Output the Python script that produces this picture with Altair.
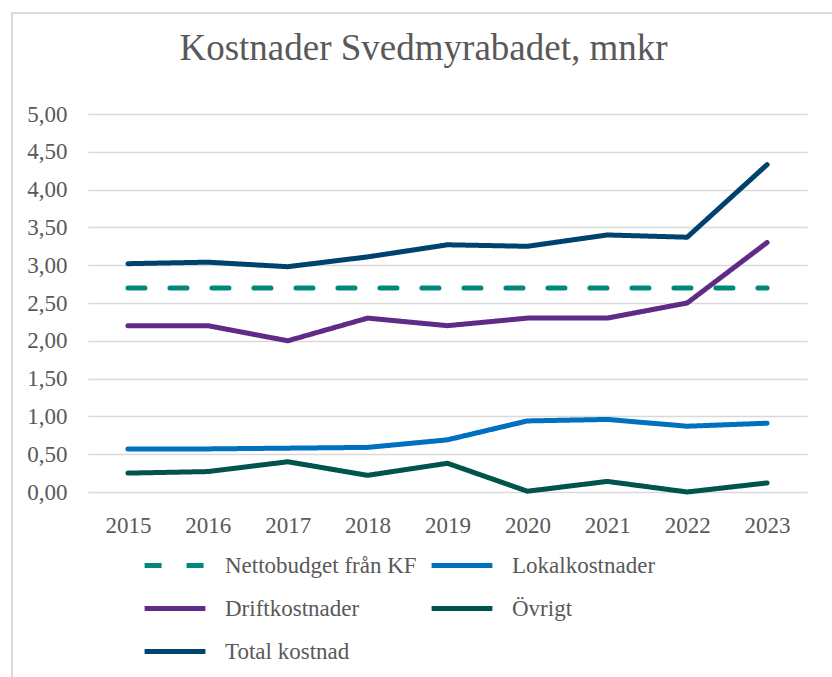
import altair as alt
import pandas as pd

years = ["2015", "2016", "2017", "2018", "2019", "2020", "2021", "2022", "2023"]
series_names = ["Nettobudget från KF", "Lokalkostnader", "Driftkostnader", "Övrigt", "Total kostnad"]
netto = [2.70, 2.70, 2.70, 2.70, 2.70, 2.70, 2.70, 2.70, 2.70]
lokal = [0.57, 0.57, 0.58, 0.59, 0.69, 0.94, 0.96, 0.87, 0.91]
drift = [2.20, 2.20, 2.00, 2.30, 2.20, 2.30, 2.30, 2.50, 3.30]
ovrigt = [0.25, 0.27, 0.40, 0.22, 0.38, 0.01, 0.14, 0.00, 0.12]
total = [3.02, 3.04, 2.98, 3.11, 3.27, 3.25, 3.40, 3.37, 4.33]
colors = ["#00897B", "#0070C0", "#612A86", "#00544C", "#00426F"]
y_ticks = [0, 0.5, 1, 1.5, 2, 2.5, 3, 3.5, 4, 4.5, 5]

rows = []
for name, vals in zip(series_names, [netto, lokal, drift, ovrigt, total]):
    for yr, v in zip(years, vals):
        rows.append({"year": yr, "value": v, "series": name})
df = pd.DataFrame(rows)

FONT = "Liberation Serif"
GRAY = "#595959"

lines = alt.Chart(df).mark_line(strokeWidth=5, strokeCap="round", strokeJoin="round").encode(
    x=alt.X("year:N", sort=years, title=None,
            scale=alt.Scale(type="point", padding=0.5),
            axis=alt.Axis(labelAngle=0, ticks=False, domain=False, grid=False,
                          labelPadding=22)),
    y=alt.Y("value:Q", title=None,
            scale=alt.Scale(domain=[0, 5], nice=False, zero=True),
            axis=alt.Axis(values=y_ticks, ticks=False, domain=False, grid=True,
                          labelPadding=21,
                          labelExpr="replace(format(datum.value, '.2f'), '.', ',')")),
    color=alt.Color("series:N", title=None,
                    scale=alt.Scale(domain=series_names, range=colors),
                    legend=alt.Legend(orient="none", legendX=54, legendY=430, columns=2,
                                      direction="horizontal",
                                      symbolType="stroke", symbolStrokeWidth=5, symbolSize=3700,
                                      labelFont=FONT, labelFontSize=23, labelColor=GRAY,
                                      labelLimit=400, labelOffset=17, clipHeight=43,
                                      rowPadding=0, columnPadding=12)),
    strokeDash=alt.StrokeDash("series:N", title=None,
                              scale=alt.Scale(domain=series_names,
                                              range=[[17, 25], [1, 0], [1, 0], [1, 0], [1, 0]])),
    order=alt.Order("series:N"),
)

border = alt.Chart(pd.DataFrame({"a": [0]})).mark_rect(
    fill=None, stroke="#D9D9D9", strokeWidth=2
).encode(
    x=alt.value(-76), x2=alt.value(900), y=alt.value(-101), y2=alt.value(700)
)

chart = alt.layer(border, lines).properties(
    width=719, height=378,
    padding={"left": 88, "top": 114, "right": 25, "bottom": 185},
    autosize=alt.AutoSizeParams(type="none"),
    background="white",
    title=alt.TitleParams("Kostnader Svedmyrabadet, mnkr", font=FONT, fontSize=37,
                          fontWeight="normal", color=GRAY, anchor="middle",
                          baseline="alphabetic", offset=-85, dx=-24),
).configure_view(stroke=None).configure_axis(
    labelFont=FONT, labelFontSize=23, labelColor=GRAY,
    gridColor="#D9D9D9", gridWidth=1.5
)

chart.save("out.html", embed_options={"renderer": "svg", "actions": False})
